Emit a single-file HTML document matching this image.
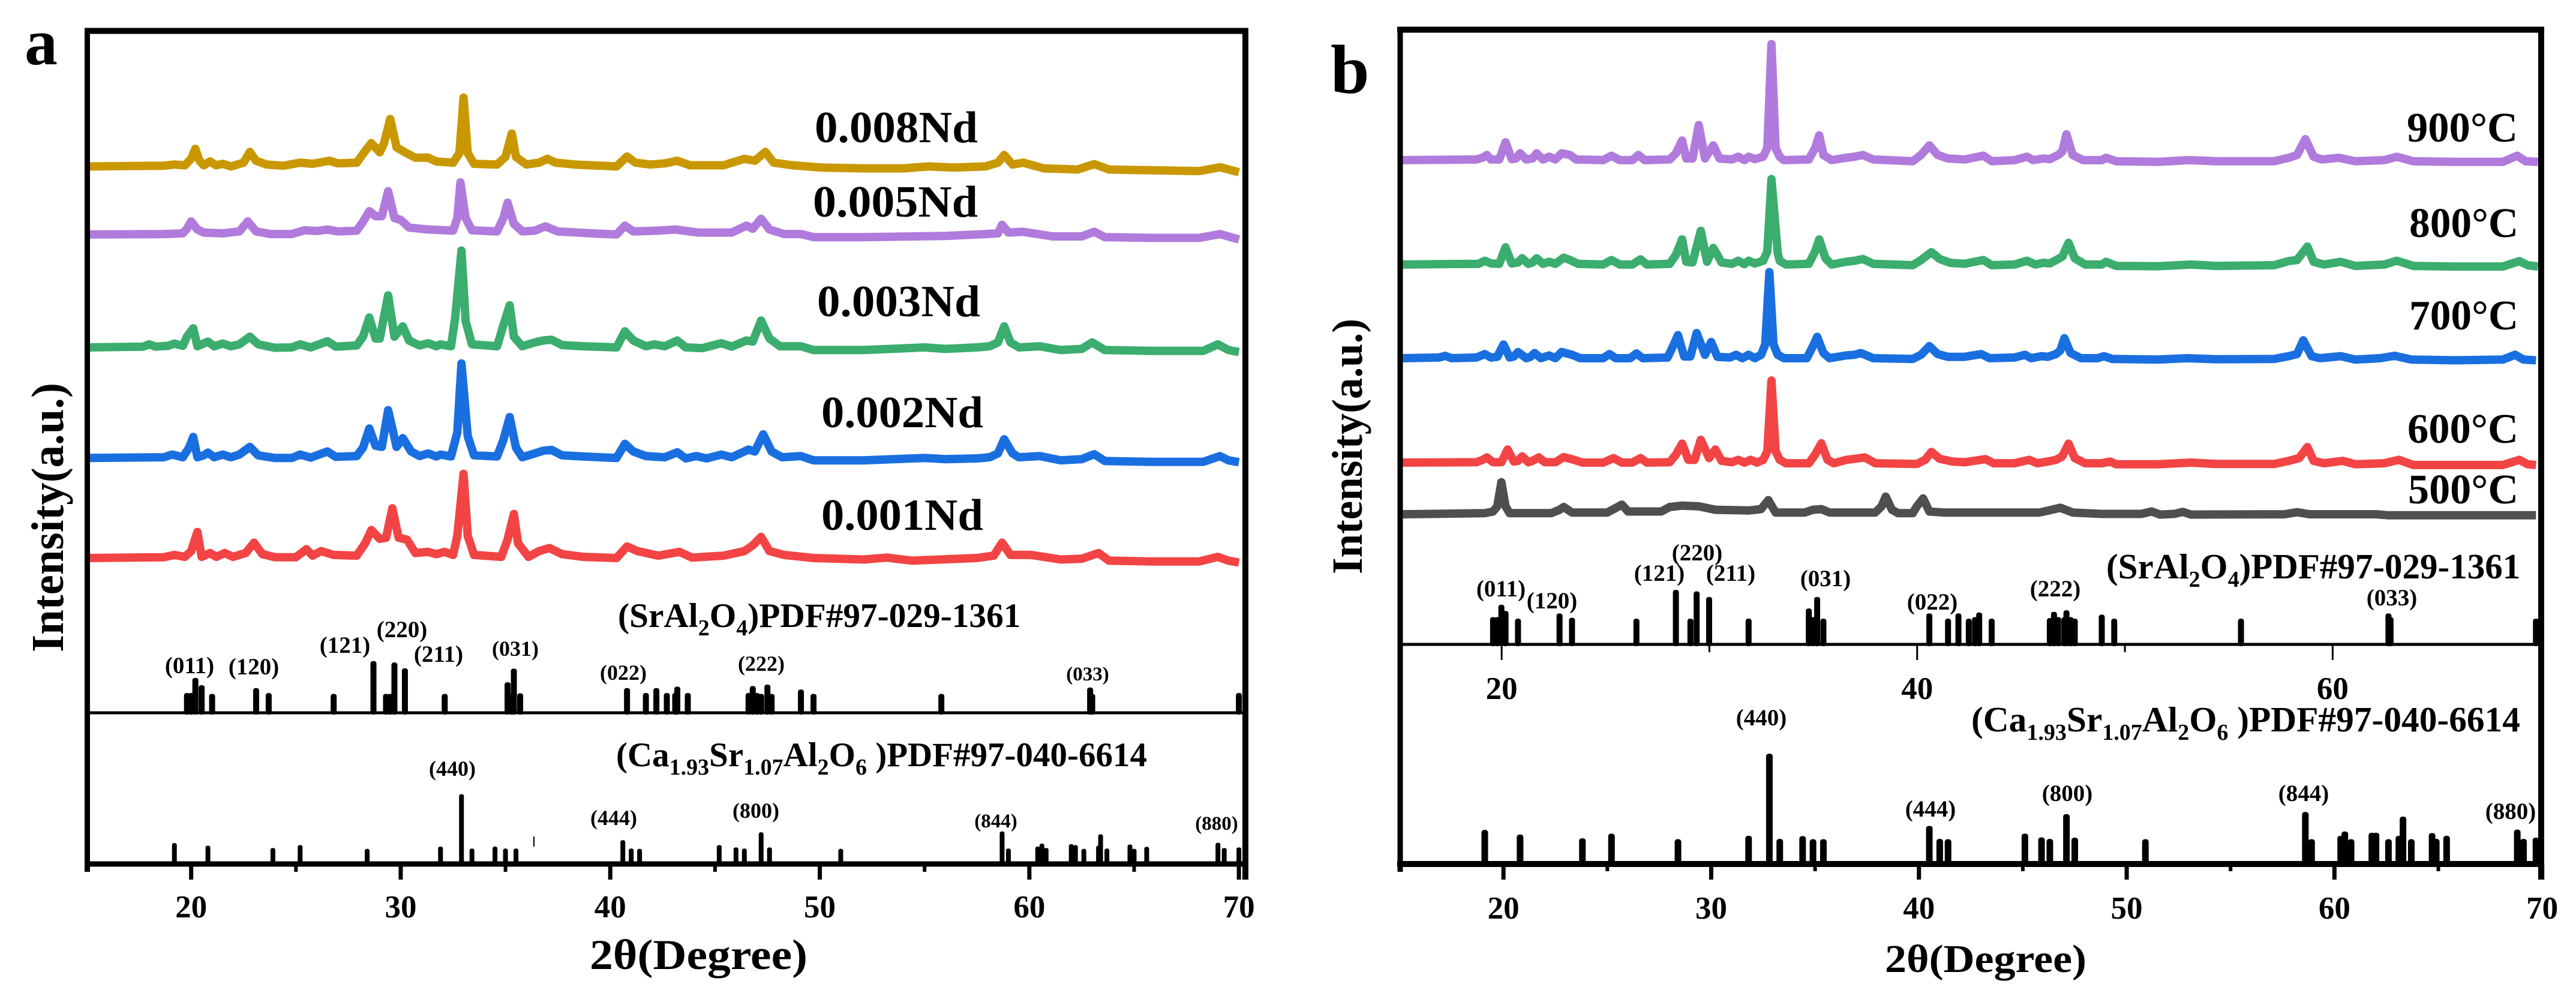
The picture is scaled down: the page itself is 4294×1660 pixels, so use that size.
<!DOCTYPE html>
<html lang="en">
<head>
<meta charset="utf-8">
<title>XRD patterns</title>
<style>
html,body{margin:0;padding:0;background:#fff;width:4294px;height:1660px;overflow:hidden}
svg{display:block}
text{font-family:"Liberation Serif",serif;font-weight:bold;fill:#000}
.hkl{font-size:39px;text-anchor:middle}
.hdr{font-size:58px;font-weight:bold}
.sub{font-size:38px}
.nd{font-size:74px}
.tick{font-size:53px;text-anchor:middle}
</style>
</head>
<body>
<svg xmlns="http://www.w3.org/2000/svg" id="chart" width="4294" height="1660" viewBox="0 0 4294 1660">
<rect width="4294" height="1660" fill="#fff"/>
<g id="panelA"></g>
<g id="panelB"></g>

<text x="41" y="107" font-size="110">a</text>
<text x="2218" y="155" font-size="116">b</text>

<text transform="translate(105,1087) rotate(-90)" font-size="76" textLength="449" lengthAdjust="spacingAndGlyphs">Intensity(a.u.)</text>
<text transform="translate(2270,957) rotate(-90)" font-size="72" textLength="426" lengthAdjust="spacingAndGlyphs">Intensity(a.u.)</text>
<text x="983" y="1615" font-size="71" textLength="363" lengthAdjust="spacingAndGlyphs">2θ(Degree)</text>
<text x="3142" y="1620" font-size="66" textLength="336" lengthAdjust="spacingAndGlyphs">2θ(Degree)</text>

<text class="nd" x="1358" y="237" textLength="272" lengthAdjust="spacingAndGlyphs">0.008Nd</text>
<text class="nd" x="1355" y="361" textLength="275" lengthAdjust="spacingAndGlyphs">0.005Nd</text>
<text class="nd" x="1362" y="527" textLength="272" lengthAdjust="spacingAndGlyphs">0.003Nd</text>
<text class="nd" x="1369" y="712" textLength="270" lengthAdjust="spacingAndGlyphs">0.002Nd</text>
<text class="nd" x="1369" y="883" textLength="270" lengthAdjust="spacingAndGlyphs">0.001Nd</text>

<text x="4012" y="236" font-size="70" textLength="185" lengthAdjust="spacingAndGlyphs">900°C</text>
<text x="4016" y="395" font-size="70" textLength="182" lengthAdjust="spacingAndGlyphs">800°C</text>
<text x="4016" y="549" font-size="70" textLength="182" lengthAdjust="spacingAndGlyphs">700°C</text>
<text x="4013" y="738" font-size="70" textLength="185" lengthAdjust="spacingAndGlyphs">600°C</text>
<text x="4014" y="839" font-size="70" textLength="184" lengthAdjust="spacingAndGlyphs">500°C</text>

<text class="hdr" style="font-size:57.3px" x="1030" y="1045">(SrAl<tspan class="sub" dy="14">2</tspan><tspan dy="-14">O</tspan><tspan class="sub" dy="14">4</tspan><tspan dy="-14">)PDF#97-029-1361</tspan></text>
<text class="hdr" style="font-size:57px" x="1027" y="1277">(Ca<tspan class="sub" dy="14">1.93</tspan><tspan dy="-14">Sr</tspan><tspan class="sub" dy="14">1.07</tspan><tspan dy="-14">Al</tspan><tspan class="sub" dy="14">2</tspan><tspan dy="-14">O</tspan><tspan class="sub" dy="14">6</tspan><tspan dy="-14"> )PDF#97-040-6614</tspan></text>
<text class="hdr" style="font-size:59px" x="3511" y="964">(SrAl<tspan class="sub" dy="14">2</tspan><tspan dy="-14">O</tspan><tspan class="sub" dy="14">4</tspan><tspan dy="-14">)PDF#97-029-1361</tspan></text>
<text class="hdr" style="font-size:59.4px" x="3286" y="1219">(Ca<tspan class="sub" dy="14">1.93</tspan><tspan dy="-14">Sr</tspan><tspan class="sub" dy="14">1.07</tspan><tspan dy="-14">Al</tspan><tspan class="sub" dy="14">2</tspan><tspan dy="-14">O</tspan><tspan class="sub" dy="14">6</tspan><tspan dy="-14"> )PDF#97-040-6614</tspan></text>

<g>
<text class="hkl" x="316" y="1122">(011)</text>
<text class="hkl" x="423" y="1124">(120)</text>
<text class="hkl" x="575" y="1088">(121)</text>
<text class="hkl" x="670" y="1062">(220)</text>
<text class="hkl" x="731" y="1103">(211)</text>
<text class="hkl" x="859" y="1093" style="font-size:36px">(031)</text>
<text class="hkl" x="1039" y="1133" style="font-size:36px">(022)</text>
<text class="hkl" x="1269" y="1118" style="font-size:36px">(222)</text>
<text class="hkl" x="1813" y="1134" style="font-size:33px">(033)</text>
<text class="hkl" x="754" y="1293" style="font-size:36px">(440)</text>
<text class="hkl" x="1023" y="1375" style="font-size:36px">(444)</text>
<text class="hkl" x="1260" y="1363" style="font-size:36px">(800)</text>
<text class="hkl" x="1660" y="1379" style="font-size:33px">(844)</text>
<text class="hkl" x="2028" y="1383" style="font-size:33px">(880)</text>
</g>
<g>
<text class="hkl" x="2502" y="994">(011)</text>
<text class="hkl" x="2587" y="1014">(120)</text>
<text class="hkl" x="2766" y="968">(121)</text>
<text class="hkl" x="2829" y="934">(220)</text>
<text class="hkl" x="2885" y="968">(211)</text>
<text class="hkl" x="3043" y="977">(031)</text>
<text class="hkl" x="3221" y="1016">(022)</text>
<text class="hkl" x="3426" y="994">(222)</text>
<text class="hkl" x="3987" y="1009">(033)</text>
<text class="hkl" x="2936" y="1209">(440)</text>
<text class="hkl" x="3218" y="1361">(444)</text>
<text class="hkl" x="3446" y="1335">(800)</text>
<text class="hkl" x="3840" y="1335">(844)</text>
<text class="hkl" x="4185" y="1365">(880)</text>
</g>
</svg>
<script>
// ---------- Panel a diffraction traces (2theta in degrees, intensity in counts) ----------
const theta008 = [15.1,18.7,19.2,19.7,20.0,20.2,20.4,20.6,20.9,21.2,21.5,21.9,22.5,22.8,23.1,23.6,24.4,25.2,25.8,26.6,27.0,27.9,28.3,28.6,29.0,29.2,29.5,29.8,30.2,30.7,31.3,31.7,32.5,32.8,33.0,33.2,33.5,34.6,35.0,35.3,35.5,36.0,36.6,37.0,37.4,38.3,40.3,40.8,41.2,41.9,42.6,43.2,43.8,45.4,46.4,46.9,47.4,47.8,48.7,50.1,52.1,54.0,55.2,56.4,57.9,58.5,58.8,59.2,59.7,60.7,62.3,63.1,63.8,65.8,68.1,69.1,70];
const counts008 = [15,17,20,18,35,61,30,18,28,18,22,15,25,53,30,20,17,25,22,30,23,25,55,76,52,75,139,65,52,38,38,28,25,50,195,50,22,20,40,101,40,20,25,35,25,20,15,41,25,20,23,30,18,18,35,30,53,25,18,12,10,10,15,12,15,25,45,20,25,10,7,21,7,5,3,13,0];
const theta005 = [15.1,18.7,19.6,19.8,20.0,20.3,20.6,21.5,22.3,22.7,23.1,23.8,24.8,25.4,26,26.5,27,27.9,28.2,28.5,28.8,29.1,29.4,29.7,30.0,30.4,31.3,32.5,32.7,32.85,33.1,33.4,34.6,34.9,35.1,35.4,35.8,36.4,36.9,37.5,39.1,40.3,40.7,41.1,42.3,43.1,44.2,45.8,46.5,46.8,47.2,47.6,48.3,49.1,49.7,52.1,56,57.9,58.5,58.7,59,59.7,61.1,62.5,63.1,63.6,65.8,68.1,69.1,70];
const counts005 = [27,28,30,42,61,40,32,30,35,61,35,28,28,38,36,40,35,37,60,88,75,75,140,70,65,45,40,37,70,163,70,38,35,70,110,55,35,37,48,35,30,27,50,35,37,40,32,32,50,42,68,40,28,28,20,20,23,28,30,52,32,34,22,22,34,20,18,18,28,14];
const theta003 = [15.1,17.7,18,18.3,18.9,19.2,19.6,19.8,20.1,20.3,20.5,20.8,21.1,21.5,21.9,22.3,22.8,23.2,24,24.8,25.2,25.7,26.5,26.9,27.9,28.2,28.5,28.8,29,29.4,29.7,30.1,30.4,30.9,31.3,31.7,31.9,32.4,32.6,32.9,33.1,33.4,34.6,34.9,35.2,35.4,35.8,36.4,36.8,37.2,37.7,38.7,40.3,40.7,41.1,41.7,42.1,42.6,43.2,43.6,44.4,45.3,45.8,46.5,46.8,47.2,47.6,48.1,49.1,49.7,52.1,55,56,57.5,58.1,58.5,58.8,59.1,59.5,60.5,61.5,62.5,63,63.6,65.8,68.3,69,69.5,70];
const counts003 = [22,24,30,24,26,32,26,50,72,25,30,37,25,32,25,30,50,30,21,22,30,22,38,24,27,50,100,45,45,158,50,77,40,27,33,25,30,25,100,275,90,30,25,80,132,50,25,35,40,42,28,25,22,64,40,25,30,25,40,22,20,33,24,40,37,92,45,25,25,15,15,22,18,22,25,35,77,35,22,25,15,18,35,15,13,13,30,15,10];
const theta002 = [15.1,18.7,19.1,19.6,19.9,20.1,20.3,20.6,20.8,21.1,21.5,21.9,22.3,22.8,23.2,24,24.8,25.2,25.7,26.5,26.9,27.9,28.2,28.5,28.8,29.1,29.4,29.8,30.1,30.5,30.9,31.3,31.7,31.9,32.4,32.7,32.9,33.2,33.5,34.6,34.9,35.2,35.5,35.8,36.4,36.8,37.2,37.7,38.7,40.3,40.7,41.1,41.7,42.6,43.2,43.6,44.1,44.6,45.3,45.8,46.6,46.9,47.3,47.7,48.2,49.1,49.7,52.1,55,56,57.5,58.1,58.5,58.8,59.2,59.5,60.5,61.5,62.5,63.1,63.6,65.8,68.3,69.1,69.5,70];
const counts002 = [23,25,32,25,50,78,25,30,37,25,32,25,32,52,30,23,23,32,24,40,26,28,50,100,55,52,148,52,75,40,28,35,27,32,27,90,270,80,30,27,70,130,50,25,35,42,44,30,27,23,60,40,28,25,38,22,28,22,32,25,45,40,85,40,25,28,17,17,23,20,22,25,35,72,35,25,28,17,20,33,15,13,13,28,17,12];
const theta001 = [15.1,18.7,19.2,19.7,20,20.3,20.5,20.9,21.2,21.6,22,22.6,23,23.4,24,25,25.5,25.8,26.2,26.8,27.9,28.3,28.6,29,29.3,29.6,29.9,30.3,30.7,31.3,31.7,32.1,32.5,32.7,33,33.2,33.5,34.8,35.1,35.4,35.6,36.1,36.6,37.1,37.7,38.7,40.3,40.8,41.3,42.3,43.3,43.9,45.4,46.4,46.8,47.2,47.6,48.3,49.7,52.1,53.2,54.4,57.5,58.3,58.7,59.1,60.1,61.5,62.5,63.3,63.8,65.8,68.1,69,69.5,70];
const counts001 = [22,24,30,25,40,90,25,35,25,35,25,35,62,32,24,24,45,28,40,30,28,60,95,72,75,152,75,70,35,38,32,38,30,80,242,80,30,25,70,137,60,25,40,48,32,25,22,52,40,28,38,23,28,40,55,77,40,30,22,18,23,15,22,28,62,30,30,18,20,35,15,13,13,25,15,10];

// ---------- Panel b diffraction traces ----------
const theta900 = [15.1,18.7,19,19.2,19.4,19.8,20.1,20.4,20.6,20.8,21.1,21.4,21.6,21.9,22.2,22.5,22.8,23.2,23.5,24.8,25.2,25.6,26.2,26.5,26.8,28,28.3,28.6,28.8,29.1,29.4,29.7,30.1,30.4,31,31.3,31.6,31.8,32.1,32.5,32.7,32.9,33.1,33.3,33.5,34.7,35,35.2,35.4,35.8,36.5,36.9,37.3,37.8,39.7,40.1,40.5,40.9,41.4,42.2,43.1,43.5,44.6,45.2,45.5,46,46.3,46.7,46.9,47.1,47.4,47.9,48.8,49,49.5,51.5,53,54.3,57.1,57.8,58.2,58.6,59,59.4,60.2,61,62.4,63,63.8,65.8,68.1,68.8,69.2,69.8];
const counts900 = [25,27,32,40,27,27,77,28,30,45,27,30,45,27,35,27,45,40,27,25,38,25,25,40,25,27,45,82,30,30,127,30,68,30,27,35,25,35,28,35,60,362,60,35,25,27,60,97,40,25,32,35,40,27,22,40,68,40,30,27,38,22,25,35,25,30,28,40,50,100,40,25,25,32,22,20,25,22,22,32,40,86,35,27,32,22,25,35,22,20,20,38,22,20];
const theta800 = [15.1,18.8,19.1,19.4,19.8,20.1,20.4,20.7,20.9,21.2,21.4,21.6,21.9,22.2,22.5,22.9,23.2,23.6,24.8,25.2,25.6,26.2,26.6,26.9,28,28.3,28.6,28.8,29.1,29.5,29.8,30.1,30.5,31,31.3,31.6,31.8,32.1,32.5,32.7,32.9,33.2,33.3,33.6,34.7,35,35.2,35.5,35.8,36.5,36.9,37.3,37.8,39.7,40.1,40.6,41,41.5,42.2,43.1,43.5,44.6,45.2,45.6,46,46.3,46.7,46.9,47.2,47.5,48,48.8,49,49.5,51.5,53.1,54.3,57.1,57.8,58.2,58.7,59,59.5,60.3,61,62.4,63,63.8,65.8,68.1,68.9,69.3,69.8];
const counts800 = [22,24,33,25,24,72,25,28,40,24,28,40,24,30,24,42,35,24,22,35,22,22,37,22,24,50,95,30,28,120,30,70,28,24,33,23,33,25,33,60,270,55,33,22,24,60,95,40,22,30,33,38,24,20,35,58,38,27,24,35,20,22,33,22,27,25,38,45,85,40,22,22,30,18,17,22,18,20,32,35,74,30,22,30,18,22,33,18,16,16,32,20,16];
const theta700 = [15.1,16.9,17.2,17.5,18.7,19.1,19.4,19.7,20,20.3,20.5,20.7,21.1,21.3,21.5,21.8,22.2,22.5,22.8,23.3,23.7,24.8,25.1,25.4,26.1,26.4,26.7,27.9,28.2,28.4,28.7,29,29.3,29.7,30,30.3,30.9,31.2,31.5,31.8,32.1,32.4,32.6,32.8,33,33.2,33.5,34.6,34.9,35.1,35.4,35.7,36.5,36.9,37.2,37.8,39.7,40.1,40.5,40.9,41.4,42.2,43,43.4,44.6,45.1,45.4,45.9,46.2,46.6,46.8,47,47.3,47.8,48.6,48.9,49.3,51.5,52.9,54.3,57.1,57.8,58.2,58.5,58.9,59.3,60.3,61,62.2,62.9,63.7,65.8,68.1,68.7,69.1,69.7];
const counts700 = [20,22,27,20,22,32,22,24,60,22,25,38,20,24,35,20,28,20,38,30,20,20,32,20,20,34,20,22,60,87,25,25,93,30,67,24,22,30,20,30,20,30,60,270,60,30,20,20,55,82,35,20,28,30,35,20,18,30,55,32,24,24,32,20,22,30,20,26,24,32,42,78,35,20,20,26,18,16,20,17,18,26,32,72,26,20,26,16,20,27,16,14,16,30,16,14];
const theta600 = [15.1,18.7,19,19.2,19.5,19.9,20.2,20.5,20.7,20.9,21.2,21.4,21.7,22,22.5,22.9,23.4,23.8,24.8,25.3,25.7,26.2,26.6,26.9,28,28.3,28.6,28.9,29.2,29.5,29.9,30.2,30.5,31,31.3,31.6,31.9,32.2,32.5,32.7,32.9,33.1,33.3,33.6,34.7,35,35.3,35.6,35.9,36.5,36.9,37.4,37.9,39.9,40.3,40.6,41,41.6,42.2,43.2,43.6,44.6,45.3,45.7,46.2,46.6,46.9,47.2,47.5,48,48.8,49.2,49.5,51.5,53.1,54.3,57.1,57.8,58.3,58.7,59,59.5,60.4,61,62.4,63.1,63.8,65.8,68.1,68.9,69.3,69.7];
const counts600 = [22,23,30,37,23,23,60,25,27,40,23,27,37,23,23,38,30,22,22,35,22,22,35,22,23,45,77,30,30,88,35,60,27,23,30,22,30,22,30,55,260,55,30,20,20,45,78,30,20,30,33,37,20,18,30,53,33,25,23,32,20,20,30,20,25,30,40,77,35,20,20,25,17,17,22,18,18,27,35,67,27,20,27,17,20,30,15,15,15,30,17,15];
const theta500 = [15.1,19.1,19.5,19.7,19.9,20.1,20.3,22.3,22.7,22.9,23.3,25,25.4,25.7,26,27.6,28,28.6,29.4,30.2,31.8,32.4,32.75,33.1,34.5,34.9,35.3,35.7,37.9,38.2,38.4,38.7,39,39.7,39.9,40.2,40.5,41.2,45.8,46.4,46.8,47.4,48.8,50.7,51.2,51.6,52.3,52.7,53.1,57.6,58.2,58.8,62,62.6,69.7];
const counts500 = [22,25,30,45,115,45,25,25,35,43,27,27,40,50,30,30,43,47,45,35,33,37,63,27,27,35,37,27,27,45,73,35,25,25,45,68,30,27,27,35,41,27,23,23,30,21,23,29,21,22,28,22,22,19,19];

// ---------- Reference stick patterns ----------
const thetaSrAlA = [19.8,20,20.2,20.5,21,23.1,23.7,26.8,28.7,29.3,29.5,29.7,30.2,32.1,35.1,35.3,35.4,35.7,40.8,41.7,42.2,42.7,43.1,43.2,43.7,46.6,46.8,47,47.2,47.5,47.7,49.1,49.7,55.8,62.9,63,70];
const heightSrAlA = [68,68,120,95,65,85,68,65,178,65,65,173,153,65,105,65,152,67,85,68,85,68,68,90,68,68,92,68,65,97,65,80,65,65,87,65,68];
const thetaCaSrA = [19.2,20.8,23.9,25.2,28.4,31.9,32.9,33.4,34.5,35,35.5,40.6,41,41.4,45.2,46,46.4,47.2,47.6,51,58.7,59,60.4,60.6,60.8,62,62.2,62.6,63.3,63.4,63.7,64.8,65,65.6,69,69.3,70];
const heightCaSrA = [72,63,55,65,52,60,240,53,60,53,53,82,53,52,65,57,53,109,57,52,112,53,60,70,55,68,65,52,63,102,53,67,52,59,73,55,57];
const thetaSrAlB = [19.5,19.7,19.9,20.1,20.7,22.7,23.3,26.4,28.3,29,29.3,29.9,31.8,34.7,34.9,35.1,35.4,40.5,41.4,41.9,42.4,42.7,42.9,43.5,46.3,46.5,46.7,47,47.1,47.3,47.5,48.8,49.4,55.5,62.6,62.7,69.7];
const heightSrAlB = [88,88,128,108,83,100,86,83,176,83,171,153,83,116,88,153,83,100,83,100,83,88,103,83,85,105,88,88,110,88,83,96,83,83,100,88,83];
const thetaCaSrB = [19.1,20.8,23.8,25.2,28.4,31.8,32.8,33.3,34.4,34.9,35.4,40.5,41,41.4,45.1,45.9,46.3,47.1,47.5,50.9,58.6,58.9,60.3,60.5,60.8,61.8,62,62.6,63.1,63.3,63.7,64.7,64.9,65.4,68.8,69.1,69.7];
const heightCaSrB = [110,95,83,98,80,91,356,81,90,80,80,123,81,80,98,86,81,161,85,80,168,80,91,105,80,101,101,80,91,153,80,100,81,91,111,81,85];

// ---------- Axis ticks ----------
const majorTicks = [20,30,40,50,60,70];
const minorTicks = [15,25,35,45,55,65];
const upperMajorTicks = [20,40,60];
const upperMinorTicks = [30,50];

// ---------- Axis functions ----------
function xA(v){return 144+(v-15)*34.93;}
function xB(v){return 2333+(v-15)*34.63;}
function yTraceA(c,zero){return zero-c/1.568;}
function yTraceB(c,zero){return zero-c/1.742;}
function ySticksA(h,base){return base-h/2.063;}
function ySticksB(h,base){return base-h/1.936;}

const NS='http://www.w3.org/2000/svg';
function mk(tag,attrs,parent){
  const el=document.createElementNS(NS,tag);
  for(const k in attrs){el.setAttribute(k,attrs[k]);}
  parent.appendChild(el);
  return el;
}
function drawTrace(parent,name,thetas,counts,xf,yf,zero,color){
  let pts=[];
  for(let i=0;i<thetas.length;i++){pts.push(xf(thetas[i]).toFixed(1)+','+yf(counts[i],zero).toFixed(1));}
  const el=mk('polyline',{points:pts.join(' '),fill:'none',stroke:color,'stroke-width':14,'stroke-linejoin':'round','stroke-linecap':'butt'},parent);
  
  
}
function drawSticks(parent,name,thetas,heights,xf,yf,base,w){
  const g=mk('g',{},parent);
  
  
  for(let i=0;i<thetas.length;i++){
    const top=yf(heights[i],base);
    const bar=mk('rect',{x:xf(thetas[i])-w/2,y:top,width:w,height:base-top+3,rx:w/2.5,fill:'#000'},g);
    
    
  }
}
function drawLine(parent,name,x1,y1,x2,y2,w){
  const l=mk('line',{x1:x1,y1:y1,x2:x2,y2:y2,stroke:'#000','stroke-width':w},parent);
  
  
}
function drawTickLabel(parent,name,x,y,str){
  const t=mk('text',{x:x,y:y,'class':'tick'},parent);
  t.textContent=str;
  
  
}

// ---------- Panel a ----------
const pa=document.getElementById('panelA');
drawTrace(pa,'series-0-008nd',theta008,counts008,xA,yTraceA,287,'#c99800');
drawTrace(pa,'series-0-005nd',theta005,counts005,xA,yTraceA,408,'#b07bdc');
drawTrace(pa,'series-0-003nd',theta003,counts003,xA,yTraceA,593,'#3bad6e');
drawTrace(pa,'series-0-002nd',theta002,counts002,xA,yTraceA,778,'#1a6fe0');
drawTrace(pa,'series-0-001nd',theta001,counts001,xA,yTraceA,944,'#f24444');
drawSticks(pa,'panel-a-sral2o4-sticks',thetaSrAlA,heightSrAlA,xA,ySticksA,1188,10);
drawSticks(pa,'panel-a-ca-sr-al-o-sticks',thetaCaSrA,heightCaSrA,xA,ySticksA,1440,8);
drawLine(pa,'panel-a-top-frame',141,51.5,2081,51.5,10);
drawLine(pa,'panel-a-left-frame',145.5,47,145.5,1453,9);
drawLine(pa,'panel-a-right-frame',2076,47,2076,1466,10);
drawLine(pa,'panel-a-middle-axis',145,1188,2076,1188,5);
drawLine(pa,'panel-a-bottom-axis',141,1440,2081,1440,9);
for(const v of majorTicks){
  drawLine(pa,'panel-a-major-tick',xA(v),1440,xA(v),1466,7);
  drawTickLabel(pa,'panel-a-x-tick-label',xA(v),1529,String(v));
}
for(const v of minorTicks){
  drawLine(pa,'panel-a-minor-tick',xA(v),1440,xA(v),1453,6);
}
drawLine(pa,'panel-a-stray-mark',890,1394,890,1411,2);

// ---------- Panel b ----------
const pb=document.getElementById('panelB');
drawTrace(pb,'series-900c',theta900,counts900,xB,yTraceB,281.3,'#b07bdc');
drawTrace(pb,'series-800c',theta800,counts800,xB,yTraceB,453.5,'#3bad6e');
drawTrace(pb,'series-700c',theta700,counts700,xB,yTraceB,608.5,'#1a6fe0');
drawTrace(pb,'series-600c',theta600,counts600,xB,yTraceB,783.6,'#f24444');
drawTrace(pb,'series-500c',theta500,counts500,xB,yTraceB,869.7,'#4f4f4f');
drawSticks(pb,'panel-b-sral2o4-sticks',thetaSrAlB,heightSrAlB,xB,ySticksB,1074,10);
drawSticks(pb,'panel-b-ca-sr-al-o-sticks',thetaCaSrB,heightCaSrB,xB,ySticksB,1440,11);
drawLine(pb,'panel-b-top-frame',2329,49.5,4241,49.5,10);
drawLine(pb,'panel-b-left-frame',2334,45,2334,1453,9);
drawLine(pb,'panel-b-right-frame',4236,45,4236,1466,10);
drawLine(pb,'panel-b-middle-axis',2334,1074,4236,1074,5);
drawLine(pb,'panel-b-bottom-axis',2329,1440,4241,1440,10);
for(const v of majorTicks){
  drawLine(pb,'panel-b-major-tick',xB(v),1440,xB(v),1466,7);
  drawTickLabel(pb,'panel-b-x-tick-label',xB(v),1531,String(v));
}
for(const v of minorTicks){
  drawLine(pb,'panel-b-minor-tick',xB(v),1440,xB(v),1452,6);
}
for(const v of upperMajorTicks){
  drawLine(pb,'panel-b-upper-major-tick',xB(v)-3,1074,xB(v)-3,1100,3);
  drawTickLabel(pb,'panel-b-upper-tick-label',xB(v)-3,1165,String(v));
}
for(const v of upperMinorTicks){
  drawLine(pb,'panel-b-upper-minor-tick',xB(v)-3,1074,xB(v)-3,1087,3);
}
</script>
</body>
</html>
